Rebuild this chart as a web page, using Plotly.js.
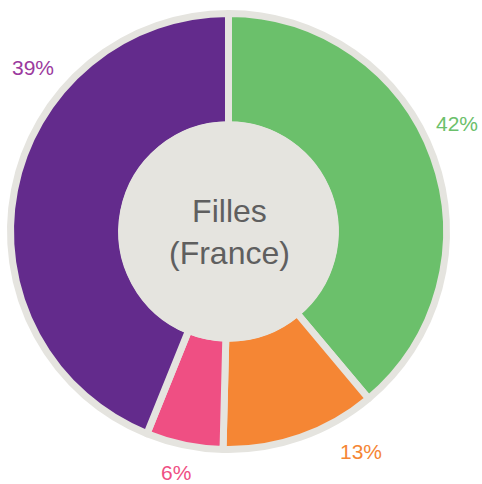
<!DOCTYPE html>
<html>
<head>
<meta charset="utf-8">
<script src="https://cdn.plot.ly/plotly-3.0.1.min.js"></script>
<style>html,body{margin:0;padding:0;background:#fff;}#chart{width:482px;height:484px;}</style>
</head>
<body>
<div id="chart"></div>
<script>
// Data
const categories = ["Vert", "Orange", "Rose", "Violet"];
const sliceValues = [38.9, 11.5, 5.7, 43.9];
const pctLabels = ["42%", "13%", "6%", "39%"];
const centerTitle = "Filles<br>(France)";

const sliceColors = ["#6bc06b", "#f58634", "#ef4f83", "#632b8c"];
const labelColors = ["#6bc06b", "#f58634", "#ef4f83", "#9b3a9e"];
const ringGray = "#e5e4df";

const W = 482, H = 484;
const cx = 228.5, cy = 231.5, R = 218, holeR = 110;
const px = (x) => x / W;
const py = (y) => 1 - y / H;

// label anchor positions (pixels)
const labelPos = [[457, 123], [361, 451], [176, 472], [32.5, 68]];

const FONT = "'Liberation Sans Narrow', 'Arial Narrow', 'Liberation Sans', Arial, sans-serif";

const trace = {
  type: "pie",
  labels: categories,
  values: sliceValues,
  sort: false,
  direction: "clockwise",
  rotation: 0,
  hole: 0.49,
  textinfo: "none",
  hoverinfo: "none",
  showlegend: false,
  marker: { colors: sliceColors, line: { color: ringGray, width: 7 } },
  domain: { x: [px(cx - R), px(cx + R)], y: [py(cy + R), py(cy - R)] }
};

const annotations = pctLabels.map((t, i) => ({
  text: t,
  xref: "paper", yref: "paper",
  x: px(labelPos[i][0]), y: py(labelPos[i][1]),
  xanchor: "center", yanchor: "middle",
  showarrow: false,
  font: { family: FONT, size: 21, color: labelColors[i] }
}));
annotations.push({
  text: centerTitle,
  xref: "paper", yref: "paper",
  x: px(cx + 1), y: py(cy),
  xanchor: "center", yanchor: "middle",
  showarrow: false,
  font: { family: FONT, size: 32, color: "#5f5f5f" }
});

const layout = {
  width: W, height: H,
  margin: { l: 0, r: 0, t: 0, b: 0 },
  paper_bgcolor: "#ffffff",
  plot_bgcolor: "#ffffff",
  shapes: [{
    type: "circle", xref: "paper", yref: "paper", layer: "above",
    x0: px(cx - holeR), x1: px(cx + holeR),
    y0: py(cy + holeR), y1: py(cy - holeR),
    fillcolor: ringGray, line: { width: 0 }
  }],
  annotations: annotations
};

Plotly.newPlot("chart", [trace], layout, { displayModeBar: false, staticPlot: true });
</script>
</body>
</html>
